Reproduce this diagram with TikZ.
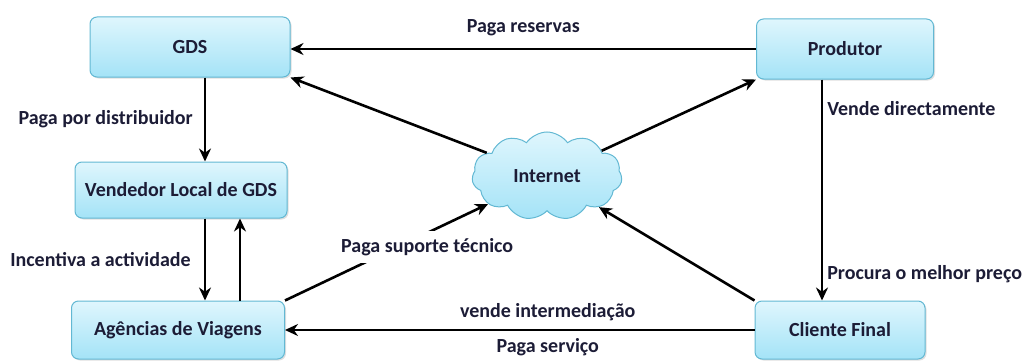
\documentclass[tikz,border=0pt]{standalone}
\usepackage{fontspec}
\setmainfont{Carlito}
\usetikzlibrary{arrows.meta,shapes.symbols,shadows}

\definecolor{bordo}{HTML}{62B8D3}
\definecolor{claro}{HTML}{DFF6FD}
\definecolor{escuro}{HTML}{A4E3F7}
\definecolor{texto}{HTML}{1C1C36}

\tikzset{
  bloco/.style={rounded corners=7pt, draw=bordo, line width=1pt,
    top color=claro, bottom color=escuro,
    drop shadow={shadow xshift=1.5pt, shadow yshift=-1.5pt, opacity=0.25},
    font=\bfseries\fontsize{20}{22}\selectfont, text=texto},
  nuvem/.style={cloud, cloud puffs=11, cloud puff arc=110, aspect=1.7,
    draw=bordo, line width=1pt, top color=claro, bottom color=escuro,
    minimum width=150pt, minimum height=88pt, inner sep=0pt,
    font=\bfseries\fontsize{20}{22}\selectfont, text=texto},
  seta/.style={line width=2.6pt, -{Stealth[length=13pt,width=12pt]}},
  rotulo/.style={font=\bfseries\fontsize{20}{22}\selectfont, text=texto, inner sep=1pt}
}

\begin{document}
\begin{tikzpicture}[x=1pt,y=-1pt]
\useasboundingbox (0,0) rectangle (1033,361);

% les blocs
\node[bloco, minimum width=200pt, minimum height=60pt] (gds) at (190,47) {GDS};
\node[bloco, minimum width=177pt, minimum height=60pt] (prod) at (845,49) {Produtor};
\node[bloco, minimum width=212pt, minimum height=56pt] (vend) at (181,190) {Vendedor Local de GDS};
\node[bloco, minimum width=213pt, minimum height=58pt] (agen) at (178,330) {Agências de Viagens};
\node[bloco, minimum width=170pt, minimum height=58pt] (cli) at (840,330) {Cliente Final};
\node[nuvem] (net) at (547,176) {Internet};

% les flèches
\draw[seta] (prod.west) -- (prod.west -| gds.east)
  node[rotulo, midway, above=11pt] {Paga reservas};
\draw[seta] (net) -- (gds.south east);
\draw[seta] (net) -- (prod.south west);
\draw[seta] ([xshift=15pt]gds.south) -- ([xshift=24pt]vend.north)
  node[rotulo, midway, left=10pt] {Paga por distribuidor};
\draw[seta] ([xshift=24pt]vend.south) -- ([xshift=27pt]agen.north)
  node[rotulo, midway, left=12pt] {Incentiva a actividade};
\draw[seta] ([xshift=62pt]agen.north) -- ([xshift=59pt]vend.south);
\draw[seta] (agen.north east) -- (net)
  node[rotulo, pos=0.7, fill=white, inner sep=7pt, yshift=-14pt] {Paga suporte técnico};
\draw[seta] (cli.north west) -- (net);
\draw[seta] (cli.west) -- (cli.west -| agen.east)
  node[rotulo, midway, above=7pt, xshift=28pt] {vende intermediação}
  node[rotulo, midway, below=6pt, xshift=28pt] {Paga serviço};
\draw[seta] ([xshift=-23pt]prod.south) -- ([xshift=-18pt]cli.north)
  node[rotulo, pos=0.13, right=3pt] {Vende directamente}
  node[rotulo, pos=0.88, right=3pt] {Procura o melhor preço};
\end{tikzpicture}
\end{document}
